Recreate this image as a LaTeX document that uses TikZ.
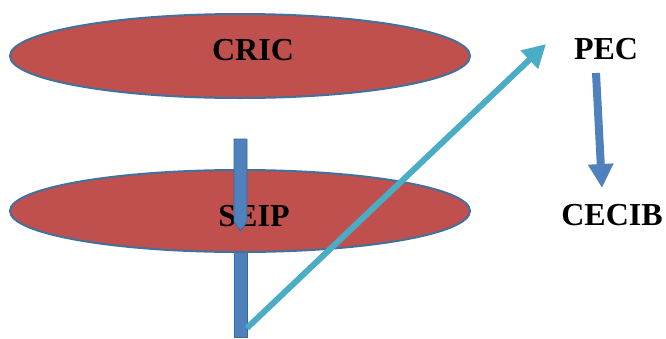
\documentclass[tikz,border=0pt]{standalone}
\usepackage{fontspec}
\setmainfont{Liberation Serif}
\usetikzlibrary{arrows.meta}
\definecolor{ellred}{HTML}{C0504D}
\definecolor{ellline}{HTML}{41719C}
\definecolor{barblue}{HTML}{4F81BD}
\definecolor{barline}{HTML}{3A679C}
\definecolor{cyanarr}{HTML}{4BACC6}
\tikzset{
  oval/.style={draw=ellline, line width=2pt, fill=ellred},
  lbl/.style={font=\fontsize{32}{33}\selectfont\bfseries, inner sep=0pt},
  bar/.style={fill=barblue, draw=barline, line width=0.8pt},
}
\begin{document}
\begin{tikzpicture}[x=1pt,y=-1pt]
\useasboundingbox (0,0) rectangle (666,338);
% ovals
\draw[oval] (240,56) ellipse [x radius=230, y radius=42];
\node[lbl] (cric) at (253,50) {CRIC};
% lower bar behind SEIP oval
\draw[bar] (234,200) rectangle (247,337);
\draw[oval] (240,211) ellipse [x radius=230, y radius=41];
\node[lbl] (seip) at (254,216) {SEIP};
% upper arrow on top of SEIP oval
\draw[bar] (234,139) -- (247,139) -- (247,222) -- (240.5,231) -- (234,222) -- cycle;
% text nodes
\node[lbl] (pec) at (606,49) {PEC};
\node[lbl] (cecib) at (612,215) {CECIB};
% cyan arrow
\coordinate (cs) at (247,328);
\coordinate (ce) at (546,44);
\draw[cyanarr, line width=6pt, -{Triangle[width=24pt,length=23pt]}] (cs) -- (ce);
% PEC -> CECIB
\coordinate (ps) at (596,73);
\coordinate (pe) at (602,188);
\draw[barblue, line width=8pt, -{Triangle[width=24pt,length=24pt]}] (ps) -- (pe);
\end{tikzpicture}
\end{document}
